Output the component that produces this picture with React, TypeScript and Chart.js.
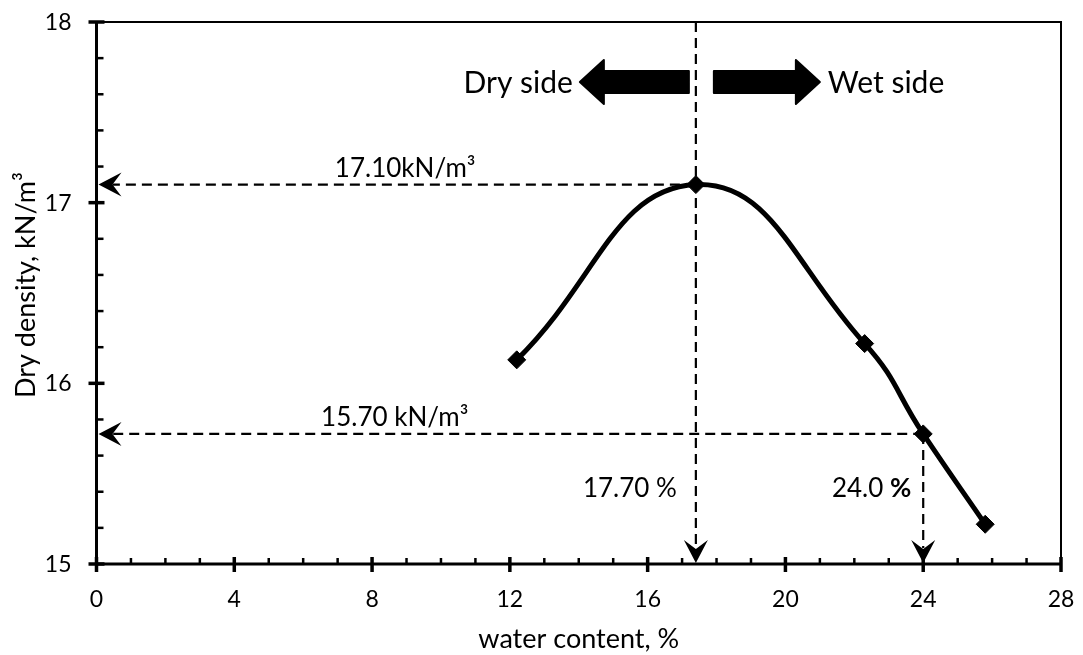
import React, { useEffect, useRef } from "react";
import { Chart, registerables } from "chart.js";

Chart.register(...registerables);

// ---- data ----
const waterContent = [12.2, 17.4, 22.3, 24.0, 25.8];
const dryDensity = [16.13, 17.1, 16.22, 15.72, 15.22];

const xTickValues = [0, 4, 8, 12, 16, 20, 24, 28];
const yTickValues = [15, 16, 17, 18];

// guide (dashed) lines: horizontal to the y axis, vertical to the x axis
const guideDensity = [17.1, 15.72];
const guideDensityFromW = [17.4, 24.0];
const guideDensityLabels = ["17.10kN/m³", "15.70 kN/m³"];
const guideWater = [17.4, 24.0];
const guideWaterFromD = [18, 15.72];
const guideWaterLabels = ["17.70 %", "24.0 "];
const sideLabels = ["Dry side", "Wet side"];

const xTitle = "water content, %";
const yTitle = "Dry density, kN/m³";

const FONT = "Lato, 'Open Sans', sans-serif";

function arrowHead(ctx: CanvasRenderingContext2D, tx: number, ty: number, dx: number, dy: number) {
  const L = 23, W = 12, N = 9;
  const px = -dy, py = dx;
  const bx = tx - dx * L, by = ty - dy * L;
  ctx.beginPath();
  ctx.moveTo(tx, ty);
  ctx.lineTo(bx + px * W, by + py * W);
  ctx.lineTo(tx - dx * (L - N), ty - dy * (L - N));
  ctx.lineTo(bx - px * W, by - py * W);
  ctx.closePath();
  ctx.fill();
}

function blockArrow(ctx: CanvasRenderingContext2D, tailX: number, tipX: number, cy: number) {
  const dir = Math.sign(tipX - tailX);
  const headLen = 24, bodyH = 11, headH = 22;
  const neck = tipX - dir * headLen;
  ctx.beginPath();
  ctx.moveTo(tailX, cy - bodyH);
  ctx.lineTo(neck, cy - bodyH);
  ctx.lineTo(neck, cy - headH);
  ctx.lineTo(tipX, cy);
  ctx.lineTo(neck, cy + headH);
  ctx.lineTo(neck, cy + bodyH);
  ctx.lineTo(tailX, cy + bodyH);
  ctx.closePath();
  ctx.fill();
  ctx.stroke();
}

const overlay = {
  id: "overlay",
  beforeDatasetsDraw(chart: any) {
    const { ctx, chartArea: a, scales } = chart;
    const x = scales.x, y = scales.y;
    ctx.save();
    ctx.strokeStyle = "#000";
    ctx.fillStyle = "#000";
    ctx.lineWidth = 2.2;
    ctx.setLineDash([10, 6]);
    // horizontal guides
    guideDensity.forEach((d, i) => {
      const py = y.getPixelForValue(d);
      const px0 = x.getPixelForValue(guideDensityFromW[i]);
      ctx.beginPath();
      ctx.moveTo(px0, py);
      ctx.lineTo(a.left + 16, py);
      ctx.stroke();
    });
    // vertical guides
    guideWater.forEach((w, i) => {
      const px = x.getPixelForValue(w);
      const py0 = y.getPixelForValue(guideWaterFromD[i]);
      ctx.beginPath();
      ctx.moveTo(px, py0);
      ctx.lineTo(px, a.bottom - 16);
      ctx.stroke();
    });
    ctx.setLineDash([]);
    guideDensity.forEach((d) => arrowHead(ctx, a.left + 2, y.getPixelForValue(d), -1, 0));
    guideWater.forEach((w) => arrowHead(ctx, x.getPixelForValue(w), a.bottom - 1, 0, 1));

    // labels on guides
    ctx.font = `26px ${FONT}`;
    ctx.textBaseline = "alphabetic";
    ctx.textAlign = "left";
    const densLabelX = [6.92, 6.52];
    guideDensity.forEach((d, i) => {
      ctx.fillText(guideDensityLabels[i], x.getPixelForValue(densLabelX[i]), y.getPixelForValue(d) - 8);
    });
    const baseY = y.getPixelForValue(15) - 67;
    ctx.textAlign = "right";
    const off = [19, 12];
    guideWater.forEach((w, i) => {
      const px = x.getPixelForValue(w) - off[i];
      if (i === 1) {
        ctx.font = `bold 26px ${FONT}`;
        const pw = ctx.measureText("%").width;
        ctx.fillText("%", px, baseY);
        ctx.font = `26px ${FONT}`;
        ctx.fillText(guideWaterLabels[i], px - pw, baseY);
      } else {
        ctx.fillText(guideWaterLabels[i], px, baseY);
      }
    });

    // Dry side / Wet side block arrows
    const vx = x.getPixelForValue(guideWater[0]);
    const cy = a.top + 60;
    ctx.lineWidth = 2;
    ctx.lineJoin = "round";
    blockArrow(ctx, vx - 7, vx - 116, cy);
    blockArrow(ctx, vx + 18, vx + 124, cy);
    ctx.font = `30px ${FONT}`;
    ctx.textBaseline = "middle";
    ctx.textAlign = "right";
    ctx.fillText(sideLabels[0], vx - 123, cy + 1);
    ctx.textAlign = "left";
    ctx.fillText(sideLabels[1], vx + 132, cy + 1);
    ctx.restore();
  },
  afterDraw(chart: any) {
    const { ctx, chartArea: a, scales } = chart;
    const x = scales.x, y = scales.y;
    ctx.save();
    ctx.strokeStyle = "#000";
    ctx.fillStyle = "#000";
    ctx.lineCap = "butt";
    // frame
    ctx.lineWidth = 2;
    ctx.beginPath();
    ctx.moveTo(a.left, a.top);
    ctx.lineTo(a.right, a.top);
    ctx.lineTo(a.right, a.bottom);
    ctx.stroke();
    ctx.lineWidth = 3;
    ctx.beginPath();
    ctx.moveTo(a.left, a.top - 1);
    ctx.lineTo(a.left, a.bottom);
    ctx.lineTo(a.right + 1, a.bottom);
    ctx.stroke();
    // minor ticks
    ctx.lineWidth = 2.5;
    for (let v = 0; v <= 28; v += 1) {
      if (v % 4 === 0) continue;
      const px = x.getPixelForValue(v);
      ctx.beginPath();
      ctx.moveTo(px, a.bottom);
      ctx.lineTo(px, a.bottom - 6);
      ctx.stroke();
    }
    for (let k = 0; k <= 15; k++) {
      if (k % 5 === 0) continue;
      const py = y.getPixelForValue(15 + k * 0.2);
      ctx.beginPath();
      ctx.moveTo(a.left, py);
      ctx.lineTo(a.left + 7, py);
      ctx.stroke();
    }
    // major ticks
    ctx.lineWidth = 3.5;
    xTickValues.forEach((v) => {
      const px = x.getPixelForValue(v);
      ctx.beginPath();
      ctx.moveTo(px, a.bottom - 7);
      ctx.lineTo(px, a.bottom + 8);
      ctx.stroke();
    });
    yTickValues.forEach((v) => {
      const py = y.getPixelForValue(v);
      ctx.beginPath();
      ctx.moveTo(a.left - 8, py);
      ctx.lineTo(a.left + 8, py);
      ctx.stroke();
    });
    // tick labels
    ctx.font = `23px ${FONT}`;
    ctx.textBaseline = "alphabetic";
    ctx.textAlign = "center";
    xTickValues.forEach((v) => {
      ctx.fillText(String(v), x.getPixelForValue(v), a.bottom + 43);
    });
    ctx.textAlign = "right";
    yTickValues.forEach((v) => {
      ctx.fillText(String(v), a.left - 25, y.getPixelForValue(v) + 8);
    });
    // axis titles
    ctx.font = `27px ${FONT}`;
    ctx.textAlign = "center";
    ctx.fillText(xTitle, (a.left + a.right) / 2, a.bottom + 84);
    ctx.save();
    ctx.translate(35, (a.top + a.bottom) / 2 - 8);
    ctx.rotate(-Math.PI / 2);
    ctx.fillText(yTitle, 0, 0);
    ctx.restore();
    ctx.restore();
  },
};

export default function App() {
  const ref = useRef<HTMLCanvasElement>(null);
  useEffect(() => {
    const prevMargin = document.body.style.margin;
    document.body.style.margin = "0";
    const chart = new Chart(ref.current as HTMLCanvasElement, {
      type: "scatter",
      data: {
        datasets: [
          {
            data: waterContent.map((w, i) => ({ x: w, y: dryDensity[i] })),
            showLine: true,
            borderColor: "#000",
            backgroundColor: "#000",
            borderWidth: 5,
            tension: 0.45,
            pointStyle: "rectRot",
            pointRadius: 9,
            pointHoverRadius: 9,
            pointBorderWidth: 1,
            pointBorderColor: "#000",
            pointBackgroundColor: "#000",
          } as any,
        ],
      },
      plugins: [overlay as any],
      options: {
        responsive: false,
        animation: false,
        devicePixelRatio: 1,
        events: [],
        layout: { padding: { top: 22, right: 22, left: 0, bottom: 0 } },
        plugins: { legend: { display: false }, tooltip: { enabled: false } },
        scales: {
          x: {
            type: "linear",
            min: 0,
            max: 28,
            grid: { display: false, drawTicks: false },
            border: { display: false },
            ticks: { display: false, stepSize: 4 },
            afterFit: (s: any) => {
              s.height = 91;
            },
          },
          y: {
            type: "linear",
            min: 15,
            max: 18,
            grid: { display: false, drawTicks: false },
            border: { display: false },
            ticks: { display: false, stepSize: 1 },
            afterFit: (s: any) => {
              s.width = 96.5;
            },
          },
        },
      } as any,
    });
    return () => {
      chart.destroy();
      document.body.style.margin = prevMargin;
    };
  }, []);
  return (
    <div style={{ position: "fixed", left: 0, top: 0, width: 1083, height: 655, background: "#fff" }}>
      <canvas ref={ref} width={1083} height={655} style={{ display: "block" }} />
    </div>
  );
}
